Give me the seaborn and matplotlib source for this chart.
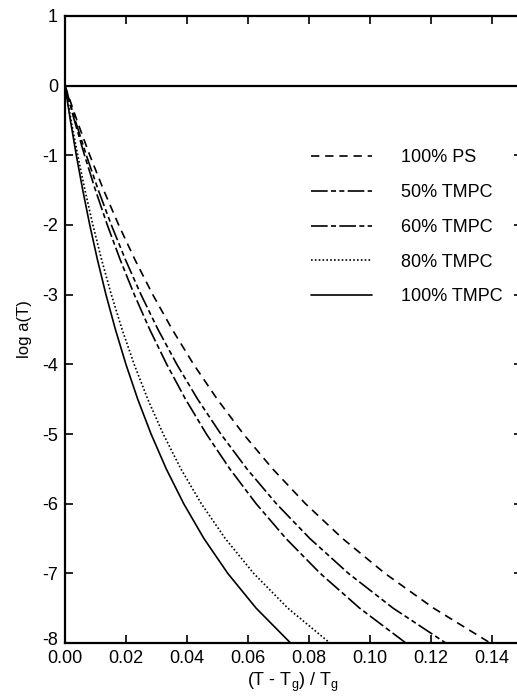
import numpy as np
import pandas as pd
import matplotlib
matplotlib.use("Agg")
import matplotlib.pyplot as plt
import matplotlib.transforms as mtransforms
import seaborn as sns

# log a(T) levels, read every half decade
log_aT = [0, -0.5, -1, -1.5, -2, -2.5, -3, -3.5, -4, -4.5, -5, -5.5, -6, -6.5, -7, -7.5, -8]

# (T - Tg)/Tg at each level
x_ps = [0, 0.00392, 0.00814, 0.01269, 0.01762, 0.02298, 0.02881, 0.03520, 0.04221,
        0.04996, 0.05855, 0.06814, 0.07892, 0.09110, 0.10500, 0.12100, 0.13961]
x_50 = [0, 0.00337, 0.00701, 0.01094, 0.01521, 0.01986, 0.02495, 0.03053, 0.03670,
        0.04353, 0.05115, 0.05970, 0.06936, 0.08037, 0.09302, 0.10771, 0.12499]
x_60 = [0, 0.00308, 0.00641, 0.01000, 0.01389, 0.01813, 0.02275, 0.02781, 0.03339,
        0.03955, 0.04641, 0.05409, 0.06273, 0.07253, 0.08376, 0.09673, 0.11189]
x_80 = [0, 0.00200, 0.00418, 0.00655, 0.00916, 0.01203, 0.01521, 0.01874, 0.02270,
        0.02716, 0.03223, 0.03803, 0.04474, 0.05260, 0.06192, 0.07315, 0.08696]
x_100 = [0, 0.00178, 0.00372, 0.00583, 0.00813, 0.01066, 0.01345, 0.01655, 0.02000,
         0.02387, 0.02825, 0.03323, 0.03896, 0.04560, 0.05342, 0.06274, 0.07404]

labels = ["100% PS", "50% TMPC", "60% TMPC", "80% TMPC", "100% TMPC"]
series = [x_ps, x_50, x_60, x_80, x_100]
styles = [(0, (5, 3.5)), (0, (10, 2, 3, 2, 3, 2)), (0, (10, 2, 3, 2)), (0, (1, 1.3)), "-"]

sns.set_theme(style="ticks")
plt.rcParams["font.family"] = ["Liberation Sans", "DejaVu Sans"]
plt.rcParams["mathtext.fontset"] = "custom"
plt.rcParams["mathtext.rm"] = "Liberation Sans"
plt.rcParams["mathtext.it"] = "Liberation Sans"
plt.rcParams["axes.unicode_minus"] = False
plt.rcParams["text.color"] = "black"
plt.rcParams["axes.labelcolor"] = "black"

fig = plt.figure(figsize=(5.17, 6.96), dpi=100)
ax = fig.add_axes([0.1257, 0.0761, 0.884, 0.901])

for lab, xs, ls in zip(labels, series, styles):
    df = pd.DataFrame({"x": xs, "y": log_aT})
    sns.lineplot(data=df, x="x", y="y", ax=ax, color="black", lw=1.2,
                 linestyle=ls, label=lab, estimator=None, sort=False)

ax.axhline(0, color="black", lw=1.6)

ax.set_xlim(0, 0.15)
ax.set_ylim(-8, 1)
ax.set_xticks([0, 0.02, 0.04, 0.06, 0.08, 0.10, 0.12, 0.14])
ax.set_xticklabels(["0.00", "0.02", "0.04", "0.06", "0.08", "0.10", "0.12", "0.14"])
ax.set_yticks(range(-8, 2))
ax.tick_params(direction="in", length=6, width=1.2, top=True, right=True,
               labelsize=13, colors="black")
ax.tick_params(axis="x", pad=5)
ax.tick_params(axis="y", pad=5)
for sp in ax.spines.values():
    sp.set_linewidth(1.6)
    sp.set_color("black")

# lift the "-8" label a little so it clears "0.00"
lbl = ax.get_yticklabels()[0]
lbl.set_transform(lbl.get_transform() + mtransforms.ScaledTranslation(0, 3 / 72, fig.dpi_scale_trans))

ax.set_xlabel("(T - T$_g$) / T$_g$", fontsize=13, labelpad=3)
ax.set_ylabel("log a(T)", fontsize=12, labelpad=7)

leg = ax.legend(loc="upper left", bbox_to_anchor=(0.502, 0.813), frameon=False,
                fontsize=13, handlelength=3.4, handletextpad=1.6, labelspacing=0.98)

fig.savefig("out.png", dpi=100)
